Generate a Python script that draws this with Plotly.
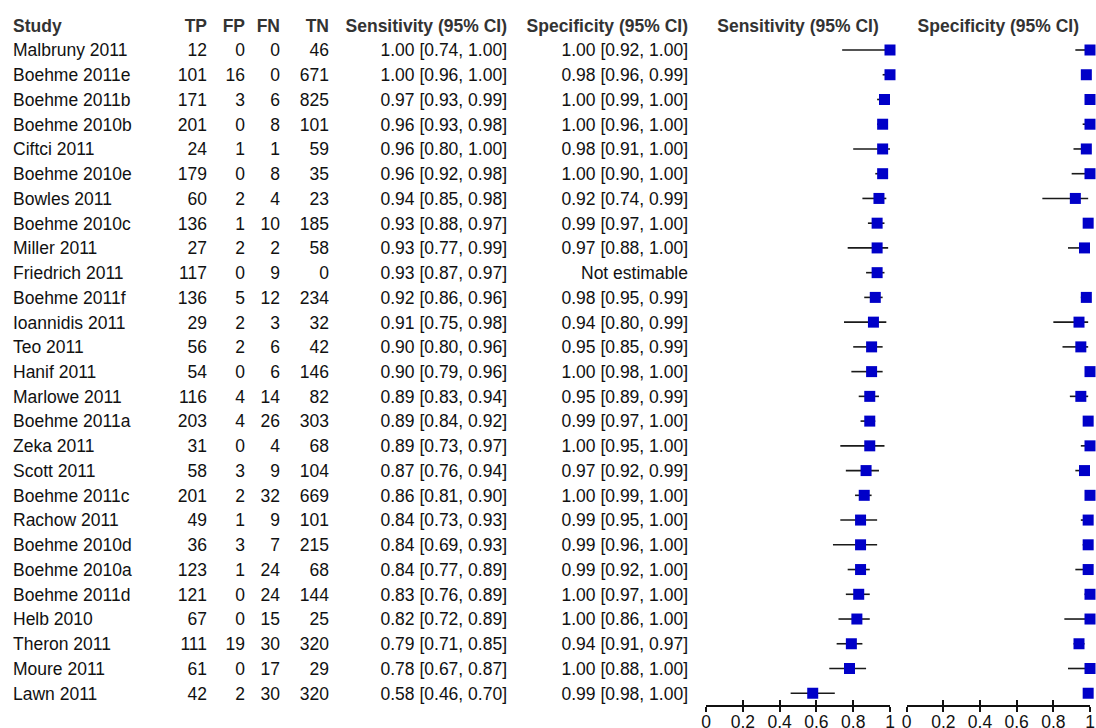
import plotly.graph_objects as go

# ---------------- data ----------------
studies = ["Malbruny 2011", "Boehme 2011e", "Boehme 2011b", "Boehme 2010b", "Ciftci 2011",
           "Boehme 2010e", "Bowles 2011", "Boehme 2010c", "Miller 2011", "Friedrich 2011",
           "Boehme 2011f", "Ioannidis 2011", "Teo 2011", "Hanif 2011", "Marlowe 2011",
           "Boehme 2011a", "Zeka 2011", "Scott 2011", "Boehme 2011c", "Rachow 2011",
           "Boehme 2010d", "Boehme 2010a", "Boehme 2011d", "Helb 2010", "Theron 2011",
           "Moure 2011", "Lawn 2011"]
tp = [12, 101, 171, 201, 24, 179, 60, 136, 27, 117, 136, 29, 56, 54, 116, 203, 31, 58, 201, 49,
      36, 123, 121, 67, 111, 61, 42]
fp = [0, 16, 3, 0, 1, 0, 2, 1, 2, 0, 5, 2, 2, 0, 4, 4, 0, 3, 2, 1, 3, 1, 0, 0, 19, 0, 2]
fn = [0, 0, 6, 8, 1, 8, 4, 10, 2, 9, 12, 3, 6, 6, 14, 26, 4, 9, 32, 9, 7, 24, 24, 15, 30, 17, 30]
tn = [46, 671, 825, 101, 59, 35, 23, 185, 58, 0, 234, 32, 42, 146, 82, 303, 68, 104, 669, 101,
      215, 68, 144, 25, 320, 29, 320]
sens = [1.00, 1.00, 0.97, 0.96, 0.96, 0.96, 0.94, 0.93, 0.93, 0.93, 0.92, 0.91, 0.90, 0.90, 0.89,
        0.89, 0.89, 0.87, 0.86, 0.84, 0.84, 0.84, 0.83, 0.82, 0.79, 0.78, 0.58]
sens_lo = [0.74, 0.96, 0.93, 0.93, 0.80, 0.92, 0.85, 0.88, 0.77, 0.87, 0.86, 0.75, 0.80, 0.79, 0.83,
           0.84, 0.73, 0.76, 0.81, 0.73, 0.69, 0.77, 0.76, 0.72, 0.71, 0.67, 0.46]
sens_hi = [1.00, 1.00, 0.99, 0.98, 1.00, 0.98, 0.98, 0.97, 0.99, 0.97, 0.96, 0.98, 0.96, 0.96, 0.94,
           0.92, 0.97, 0.94, 0.90, 0.93, 0.93, 0.89, 0.89, 0.89, 0.85, 0.87, 0.70]
spec = [1.00, 0.98, 1.00, 1.00, 0.98, 1.00, 0.92, 0.99, 0.97, None, 0.98, 0.94, 0.95, 1.00, 0.95,
        0.99, 1.00, 0.97, 1.00, 0.99, 0.99, 0.99, 1.00, 1.00, 0.94, 1.00, 0.99]
spec_lo = [0.92, 0.96, 0.99, 0.96, 0.91, 0.90, 0.74, 0.97, 0.88, None, 0.95, 0.80, 0.85, 0.98, 0.89,
           0.97, 0.95, 0.92, 0.99, 0.95, 0.96, 0.92, 0.97, 0.86, 0.91, 0.88, 0.98]
spec_hi = [1.00, 0.99, 1.00, 1.00, 1.00, 1.00, 0.99, 1.00, 1.00, None, 0.99, 0.99, 0.99, 1.00, 0.99,
           1.00, 1.00, 0.99, 1.00, 1.00, 1.00, 1.00, 1.00, 1.00, 0.97, 1.00, 1.00]
not_estimable = "Not estimable"
col_headers = ["Study", "TP", "FP", "FN", "TN", "Sensitivity (95% CI)", "Specificity (95% CI)"]
plot_headers = ["Sensitivity (95% CI)", "Specificity (95% CI)"]
tick_vals = [0, 0.2, 0.4, 0.6, 0.8, 1]
tick_text = ["0", "0.2", "0.4", "0.6", "0.8", "1"]

# ---------------- layout constants ----------------
W, H = 1096, 728
ROW0, DY = 50.0, 24.74          # pixel centre of first row, row spacing
TEXT_SHIFT = 2.0                 # px, text drawn slightly lower than the row centre
AXIS_Y = 706                     # pixel y of forest axis line
SENS_X = (706, 890)
SPEC_X = (906.7, 1090)
FONT = "Liberation Sans, Arial, sans-serif"
FS = 17.5
BLUE = "#0000C8"

n = len(studies)
rows = list(range(n))
HDR = -1

def fmt_ci(v, lo, hi):
    if v is None:
        return not_estimable
    return f"{v:.2f} [{lo:.2f}, {hi:.2f}]"

sens_txt = [fmt_ci(v, a, b) for v, a, b in zip(sens, sens_lo, sens_hi)]
spec_txt = [fmt_ci(v, a, b) for v, a, b in zip(spec, spec_lo, spec_hi)]

fig = go.Figure()

# ---- table text (on pixel x-axis x3, text y-axis y2) ----
col_x = [13, 207, 245, 280, 329, 507, 688]
col_pos = ["middle right"] + ["middle left"] * 6
col_vals = [studies, [str(v) for v in tp], [str(v) for v in fp], [str(v) for v in fn],
            [str(v) for v in tn], sens_txt, spec_txt]
for cx, pos, vals, hdr in zip(col_x, col_pos, col_vals, col_headers):
    fig.add_trace(go.Scatter(x=[cx] * n, y=rows, text=vals, mode="text", textposition=pos,
                             textfont=dict(family=FONT, size=FS, color="#111"),
                             xaxis="x3", yaxis="y2", hoverinfo="skip", showlegend=False,
                             cliponaxis=False))
    fig.add_trace(go.Scatter(x=[cx], y=[HDR], text=[hdr], mode="text", textposition=pos,
                             textfont=dict(family=FONT, size=FS, color="#333", weight="bold"),
                             xaxis="x3", yaxis="y2", hoverinfo="skip", showlegend=False,
                             cliponaxis=False))

# forest plot headers
for (a, b), hdr in zip([SENS_X, SPEC_X], plot_headers):
    fig.add_trace(go.Scatter(x=[(a + b) / 2], y=[HDR], text=[hdr], mode="text",
                             textposition="middle center",
                             textfont=dict(family=FONT, size=FS, color="#333", weight="bold"),
                             xaxis="x3", yaxis="y2", hoverinfo="skip", showlegend=False,
                             cliponaxis=False))

# ---- forest plots ----
def ci_lines(lo, hi):
    xs, ys = [], []
    for i, (a, b) in enumerate(zip(lo, hi)):
        if a is None:
            continue
        xs += [a, b, None]
        ys += [i, i, None]
    return xs, ys

for xa, est, lo, hi in [("x", sens, sens_lo, sens_hi), ("x2", spec, spec_lo, spec_hi)]:
    lx, ly = ci_lines(lo, hi)
    fig.add_trace(go.Scatter(x=lx, y=ly, mode="lines", line=dict(color="#1a1a1a", width=1.6),
                             xaxis=xa, yaxis="y", hoverinfo="skip", showlegend=False,
                             cliponaxis=False))
    fig.add_trace(go.Scatter(x=est, y=rows, mode="markers",
                             marker=dict(symbol="square", size=11, color=BLUE, line=dict(width=0)),
                             xaxis=xa, yaxis="y", hoverinfo="skip", showlegend=False,
                             cliponaxis=False))

# empty traces so the tick-overlay axes are drawn
fig.add_trace(go.Scatter(x=[None], y=[None], xaxis="x4", yaxis="y", showlegend=False))
fig.add_trace(go.Scatter(x=[None], y=[None], xaxis="x5", yaxis="y", showlegend=False))

pos = (H - AXIS_Y) / H

def dom(p):
    return [p[0] / W, p[1] / W]

def forest_axis(p, ticks, labels, overlay=None):
    d = dict(domain=dom(p), range=[0, 1], anchor="free", position=pos, automargin=False,
             showline=True, linecolor="#111", linewidth=1.5,
             ticks=ticks, ticklen=5, tickwidth=1.5, tickcolor="#111",
             tickmode="array", tickvals=tick_vals, ticktext=tick_text,
             showticklabels=labels, showgrid=False, zeroline=False, fixedrange=True,
             tickfont=dict(family=FONT, size=FS, color="#111"))
    if overlay:
        d["overlaying"] = overlay
    return d

yr = [(H - ROW0) / DY, -ROW0 / DY]
ys = TEXT_SHIFT / DY

fig.update_layout(
    width=W, height=H, autosize=False,
    margin=dict(l=0, r=0, t=0, b=0, pad=0, autoexpand=False),
    paper_bgcolor="white", plot_bgcolor="rgba(0,0,0,0)",
    showlegend=False,
    # label-bearing axes carry the inside ticks (so labels sit close to the line)
    xaxis=forest_axis(SENS_X, "inside", True),
    xaxis2=forest_axis(SPEC_X, "inside", True),
    # overlay axes carry the outside half of each tick
    xaxis4=forest_axis(SENS_X, "outside", False, overlay="x"),
    xaxis5=forest_axis(SPEC_X, "outside", False, overlay="x2"),
    xaxis3=dict(domain=[0, 1], range=[0, W], visible=False, fixedrange=True, anchor="y2",
                automargin=False),
    yaxis=dict(domain=[0, 1], range=yr, visible=False, fixedrange=True, anchor="x",
               automargin=False),
    yaxis2=dict(domain=[0, 1], range=[yr[0] - ys, yr[1] - ys], visible=False,
                fixedrange=True, anchor="x3", overlaying="y", automargin=False),
)

fig.write_html("out.html")
